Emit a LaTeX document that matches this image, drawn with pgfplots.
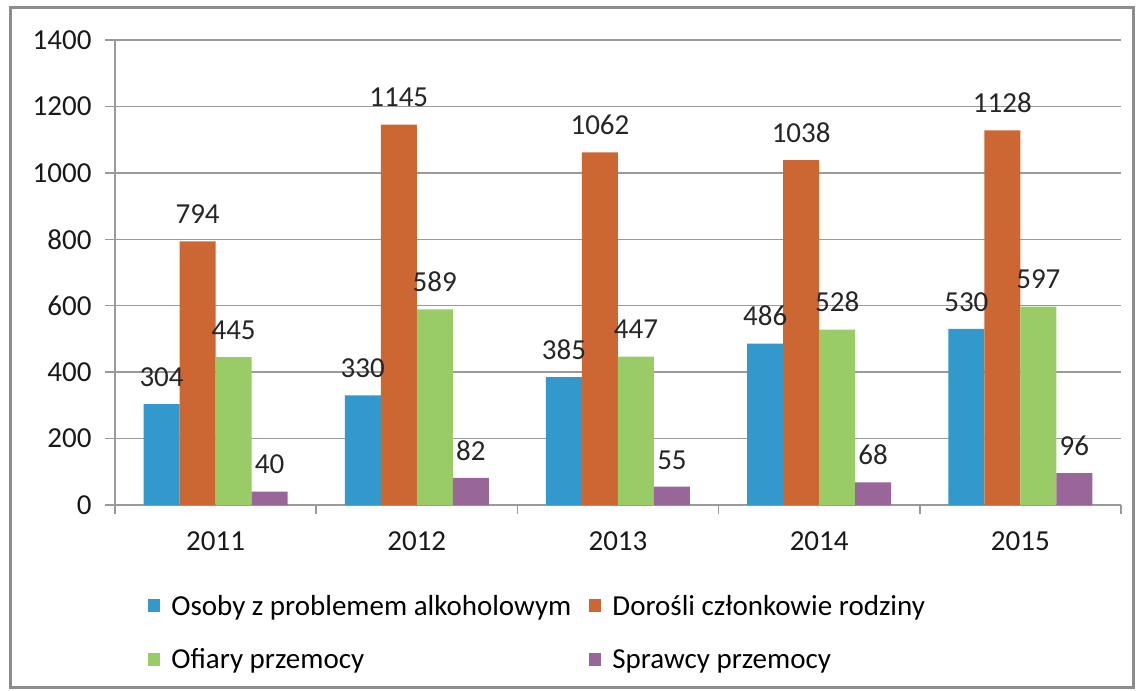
\documentclass[border=0pt]{standalone}
\usepackage{pgfplots}
\pgfplotsset{compat=1.18}
\usepackage{pgfplotstable}
\usepackage{fontspec}
\setmainfont{Carlito}
\definecolor{cBlue}{HTML}{3399CC}
\definecolor{cOrange}{HTML}{CC6633}
\definecolor{cGreen}{HTML}{99CC66}
\definecolor{cPurple}{HTML}{996699}
\definecolor{cFrame}{HTML}{8C8C8C}
\definecolor{cGrid}{HTML}{9A9A9A}
\pgfplotstableread{
x y
1 304
2 330
3 385
4 486
5 530
}\tblA
\pgfplotstableread{
x y
1 794
2 1145
3 1062
4 1038
5 1128
}\tblB
\pgfplotstableread{
x y
1 445
2 589
3 447
4 528
5 597
}\tblC
\pgfplotstableread{
x y
1 40
2 82
3 55
4 68
5 96
}\tblD
\begin{document}
\begin{tikzpicture}[x=1pt,y=1pt]
\useasboundingbox (0,0) rectangle (1141,691);
\draw[cFrame, line width=3pt] (10,3) rectangle (1133,683);
\begin{axis}[
  at={(115pt,186pt)}, anchor=south west,
  scale only axis, width=1006pt, height=465pt,
  ybar=0pt, bar width=36pt,
  xmin=0.5, xmax=5.5, ymin=0, ymax=1400,
  xtick={1,2,3,4,5}, xticklabels={2011,2012,2013,2014,2015},
  minor xtick={0.5,1.5,2.5,3.5,4.5,5.5},
  ytick={0,200,...,1400},
  tick align=outside,
  major tick length=10pt, minor tick length=9pt,
  tick style={cGrid, line width=1.5pt},
  major x tick style={draw=none},
  axis x line*=bottom, axis y line*=left,
  axis line style={-, draw=cGrid, line width=1.5pt},
  ymajorgrids, grid style={cGrid, line width=1.5pt},
  /pgf/number format/assume math mode=true,
  /pgf/number format/1000 sep={},
  ticklabel style={font=\fontsize{29}{34}\selectfont, text=black!90},
  xticklabel style={yshift=-13pt},
  yticklabel style={xshift=-10pt},
  nodes near coords,
  every node near coord/.append style={font=\fontsize{29}{34}\selectfont, text=black!85, yshift=14pt},
  legend columns=2,
  legend cell align=left,
  legend style={draw=none, fill=none, at={(0.03,-0.185)}, anchor=north west,
    font=\fontsize{29}{34}\selectfont, row sep=28pt,
    /tikz/every even column/.append style={column sep=16pt}},
  legsq/.style={legend image code/.code={\fill[##1] (0pt,-6pt) rectangle (12pt,7pt); \path (21pt,0pt);}},
]
\addplot[fill=cBlue, draw=none, legsq] table[x=x,y=y] {\tblA};
\addplot[fill=cOrange, draw=none, legsq] table[x=x,y=y] {\tblB};
\addplot[fill=cGreen, draw=none, legsq] table[x=x,y=y] {\tblC};
\addplot[fill=cPurple, draw=none, legsq] table[x=x,y=y] {\tblD};
\legend{Osoby z problemem alkoholowym, Dorośli członkowie rodziny, Ofiary przemocy, Sprawcy przemocy}
\end{axis}
\end{tikzpicture}
\end{document}
